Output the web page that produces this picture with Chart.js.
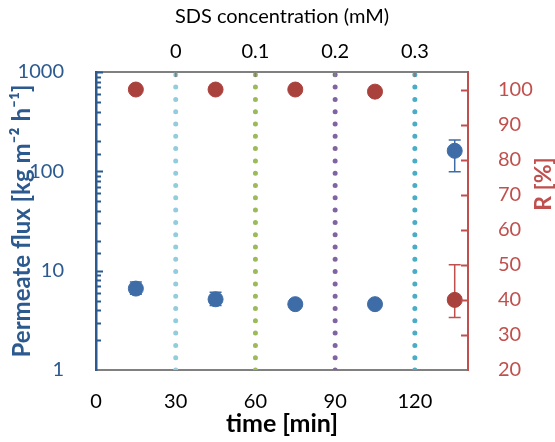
<!DOCTYPE html>
<html>
<head>
<meta charset="utf-8">
<script src="https://cdn.jsdelivr.net/npm/chart.js@4.4.1/dist/chart.umd.min.js"></script>
<style>
  html, body { margin: 0; padding: 0; background: #fff; }
  #wrap { width: 555px; height: 442px; }
</style>
</head>
<body>
<div id="wrap"><canvas id="chart"></canvas></div>
<script>
// measured points
const times = [15, 45, 75, 105, 135];
const flux = [6.6, 5.15, 4.6, 4.6, 161];
const fluxErrUp = [1.1, 0.9, 0, 0, 46];
const fluxErrDown = [0.8, 0.7, 0, 0, 62];
const rejection = [100, 100, 100, 99.4, 40];
const rErrUp = [0, 0, 0, 0, 10];
const rErrDown = [0, 0, 0, 0, 5];

// axes
const timeTicks = [0, 30, 60, 90, 120];
const fluxTicks = [1, 10, 100, 1000];
const rTicks = [20, 30, 40, 50, 60, 70, 80, 90, 100];
const sdsTimes = [30, 60, 90, 120];
const sdsLabels = ['0', '0.1', '0.2', '0.3'];
const sdsColors = ['#93CDDD', '#9BBB59', '#8064A2', '#4BACC6'];

const BLUE = '#3E6CA7';
const BLUE_AXIS = '#2C5A8F';
const RED = '#A9413C';
const RED_AXIS = '#C0504D';
const FONT = 'Lato';

function drawErrors(ctx, xs, ys, vals, up, down, color) {
    ctx.save();
    ctx.strokeStyle = color;
    ctx.lineWidth = 1.5;
    vals.forEach((v, i) => {
        if (!up[i] && !down[i]) return;
        const x = xs.getPixelForValue(times[i]);
        const y1 = ys.getPixelForValue(v + up[i]);
        const y2 = ys.getPixelForValue(v - down[i]);
        ctx.beginPath();
        ctx.moveTo(x, y1); ctx.lineTo(x, y2);
        ctx.moveTo(x - 6, y1); ctx.lineTo(x + 6, y1);
        ctx.moveTo(x - 6, y2); ctx.lineTo(x + 6, y2);
        ctx.stroke();
    });
    ctx.restore();
}

const decor = {
    id: 'decor',
    beforeDatasetsDraw(chart) {
        const { ctx, scales } = chart;
        drawErrors(ctx, scales.x, scales.y, flux, fluxErrUp, fluxErrDown, BLUE);
        drawErrors(ctx, scales.x, scales.y2, rejection, rErrUp, rErrDown, RED_AXIS);
    },
    afterDraw(chart) {
        const { ctx, chartArea, scales } = chart;
        ctx.save();
        // inward ticks, left log axis
        ctx.strokeStyle = BLUE_AXIS;
        ctx.lineWidth = 2;
        ctx.beginPath();
        scales.y.ticks.forEach(t => {
            if (t.value <= 1) return;
            const y = Math.round(scales.y.getPixelForValue(t.value)) + 0.5;
            const len = fluxTicks.includes(t.value) ? 7 : 5;
            ctx.moveTo(chartArea.left, y);
            ctx.lineTo(chartArea.left + len, y);
        });
        ctx.stroke();
        // right axis
        ctx.strokeStyle = RED_AXIS;
        ctx.beginPath();
        rTicks.forEach(v => {
            if (v <= 20) return;
            const y = Math.round(scales.y2.getPixelForValue(v)) + 0.5;
            ctx.moveTo(chartArea.right - 7, y);
            ctx.lineTo(chartArea.right, y);
        });
        ctx.stroke();
        // top axis
        ctx.strokeStyle = '#808080';
        ctx.beginPath();
        sdsTimes.forEach(v => {
            const x = scales.x2.getPixelForValue(v);
            ctx.moveTo(x, chartArea.top);
            ctx.lineTo(x, chartArea.top + 5);
        });
        ctx.stroke();
        // right title, reading upward like the left one
        ctx.fillStyle = RED_AXIS;
        ctx.font = 'bold 23px ' + FONT;
        ctx.textAlign = 'center';
        ctx.textBaseline = 'middle';
        ctx.translate(chart.width - 11, chartArea.top + 112);
        ctx.rotate(-Math.PI / 2);
        ctx.fillText('R [%]', 0, 0);
        ctx.restore();
    }
};

const dotted = sdsTimes.map((t, i) => ({
    data: [{ x: t, y: fluxTicks[0] }, { x: t, y: fluxTicks[fluxTicks.length - 1] }],
    xAxisID: 'x',
    yAxisID: 'y',
    showLine: true,
    borderColor: sdsColors[i],
    borderWidth: 5,
    borderDash: [0, 12.3],
    borderCapStyle: 'round',
    pointRadius: 0,
    order: 3
}));

Chart.defaults.font.family = FONT;

new Chart(document.getElementById('chart'), {
    type: 'scatter',
    data: {
        datasets: [
            ...dotted,
            {
                label: 'Permeate flux',
                data: times.map((t, i) => ({ x: t, y: flux[i] })),
                xAxisID: 'x',
                yAxisID: 'y',
                backgroundColor: BLUE,
                borderColor: BLUE,
                pointRadius: 7.5,
                order: 1
            },
            {
                label: 'R',
                data: times.map((t, i) => ({ x: t, y: rejection[i] })),
                xAxisID: 'x',
                yAxisID: 'y2',
                backgroundColor: RED,
                borderColor: RED,
                pointRadius: 7.5,
                order: 2
            }
        ]
    },
    options: {
        responsive: true,
        maintainAspectRatio: false,
        animation: false,
        layout: { padding: 0 },
        plugins: {
            legend: { display: false },
            tooltip: { enabled: false }
        },
        scales: {
            x: {
                type: 'linear',
                position: 'bottom',
                min: 0,
                max: 140,
                afterBuildTicks: s => { s.ticks = timeTicks.map(v => ({ value: v })); },
                afterFit: s => { s.height = 72; },
                grid: { display: false },
                border: { display: true, color: '#808080', width: 2 },
                ticks: { color: '#000', font: { size: 20 }, padding: 12 },
                title: {
                    display: true, text: 'time [min]', color: '#000',
                    font: { size: 25, weight: 'bold' }, padding: { top: 0, bottom: 3 }
                }
            },
            x2: {
                type: 'linear',
                position: 'top',
                min: 0,
                max: 140,
                afterBuildTicks: s => { s.ticks = sdsTimes.map(v => ({ value: v })); },
                afterFit: s => { s.height = 72; },
                grid: { display: false },
                border: { display: true, color: '#808080', width: 2 },
                ticks: {
                    color: '#000', font: { size: 20 }, padding: 0,
                    callback: v => sdsLabels[sdsTimes.indexOf(v)]
                },
                title: {
                    display: true, text: 'SDS concentration (mM)', color: '#000',
                    font: { size: 20 }, padding: { top: 5, bottom: 0 }
                }
            },
            y: {
                type: 'logarithmic',
                position: 'left',
                min: fluxTicks[0],
                max: fluxTicks[fluxTicks.length - 1],
                afterFit: s => { s.width = 96; },
                grid: { display: false },
                border: { display: true, color: BLUE_AXIS, width: 2.5 },
                ticks: {
                    color: BLUE_AXIS, font: { size: 20 }, padding: 24, autoSkip: false,
                    callback: v => fluxTicks.includes(v) ? String(v) : ''
                },
                title: {
                    display: true, text: 'Permeate flux [kg m\u207B\u00B2 h\u207B\u00B9]', color: BLUE_AXIS,
                    font: { size: 24, weight: 'bold' }, padding: { top: 8, bottom: 0 }
                }
            },
            y2: {
                type: 'linear',
                position: 'right',
                min: 20,
                max: 105,
                afterBuildTicks: s => { s.ticks = rTicks.map(v => ({ value: v })); },
                afterFit: s => { s.width = 87; },
                grid: { display: false },
                border: { display: true, color: RED_AXIS, width: 2 },
                ticks: { color: RED_AXIS, font: { size: 20 }, padding: 22 }
            }
        }
    },
    plugins: [decor]
});
</script>
</body>
</html>
